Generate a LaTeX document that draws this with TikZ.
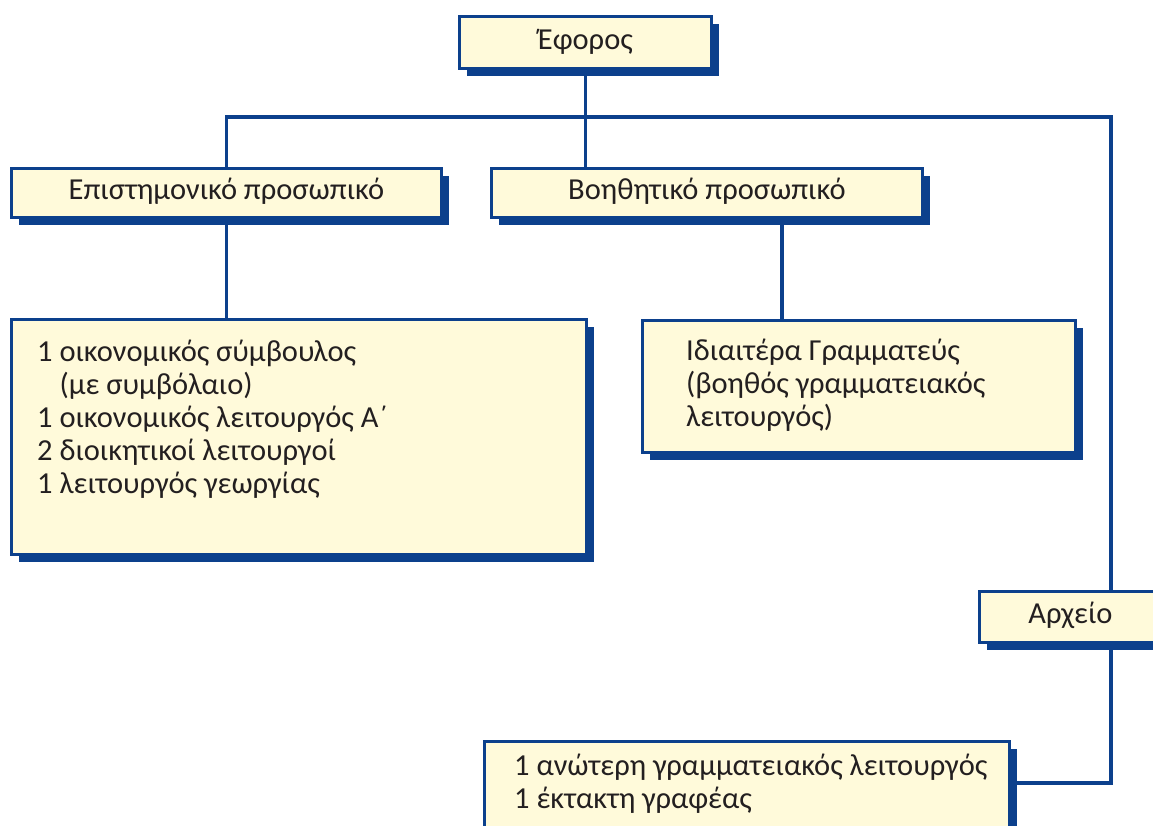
\documentclass[tikz,border=0pt]{standalone}
\usepackage{fontspec}
\setmainfont{Carlito}
\usetikzlibrary{shadows,backgrounds}
\definecolor{navy}{RGB}{12,64,140}
\definecolor{cream}{RGB}{255,250,218}
\definecolor{ink}{RGB}{35,31,32}
\begin{document}
\begin{tikzpicture}[x=1pt,y=-1pt,
  lbl/.style={text=ink, font=\fontsize{30.5}{33}\selectfont, inner sep=0pt},
  box/.style={lbl, draw=navy, line width=2.8pt, fill=cream, anchor=north west,
    text height=18pt, text depth=4pt,
    drop shadow={shadow xshift=8pt, shadow yshift=-8pt, fill=navy, opacity=1}},
  conn/.style={draw=navy, line width=3.3pt},
  txt/.style={lbl, anchor=base west, align=left},
]
\useasboundingbox (0,0) rectangle (1153,825);
\clip (0,0) rectangle (1153,825);

% boxes
\node[box, minimum width=252pt, minimum height=52pt] (ef) at (458,15) {Έφορος};
\node[box, minimum width=430pt, minimum height=49pt] (epi) at (10,167) {Επιστημονικό προσωπικό};
\node[box, minimum width=431pt, minimum height=49pt] (voi) at (490,167) {Βοηθητικό προσωπικό};
\node[box, minimum width=575pt, minimum height=235pt] (big) at (10,318) {};
\node[box, minimum width=433pt, minimum height=132pt] (idi) at (641,319) {};
\node[box, minimum width=182pt, minimum height=51pt] (arx) at (978,590) {Αρχείο};
\node[box, minimum width=525pt, minimum height=120pt] (bot) at (483,740) {};

% texts (anchored at the baseline of their last line)
\node[txt] (bigt) at (37,493) {1 οικονομικός σύμβουλος\\\hphantom{1 }(με συμβόλαιο)\\1 οικονομικός λειτουργός Α΄\\2 διοικητικοί λειτουργοί\\1 λειτουργός γεωργίας};
\node[txt] (idit) at (686,426) {Ιδιαιτέρα Γραμματεύς\\(βοηθός γραμματειακός\\λειτουργός)};
\node[txt] (bott) at (514,808) {1 ανώτερη γραμματειακός λειτουργός\\1 έκτακτη γραφέας};

% connectors
\coordinate (hl) at (225,117);
\coordinate (hr) at (1111,117);
\coordinate (v2) at ([xshift=292pt]voi.south west);
\coordinate (bj) at ([yshift=-43pt]bot.north east);
\begin{pgfonlayer}{background}
\draw[conn] (epi.north) -- (epi.north |- hl) -- (hr) -- (hr |- arx.north);
\draw[conn] (ef.south) -- (ef.south |- voi.north);
\draw[conn] (epi.south) -- (epi.south |- big.north);
\draw[conn] (v2) -- (v2 |- idi.north);
\draw[conn] (hr |- arx.south) -- (hr |- bj) -- (bj);
\end{pgfonlayer}
\end{tikzpicture}
\end{document}
